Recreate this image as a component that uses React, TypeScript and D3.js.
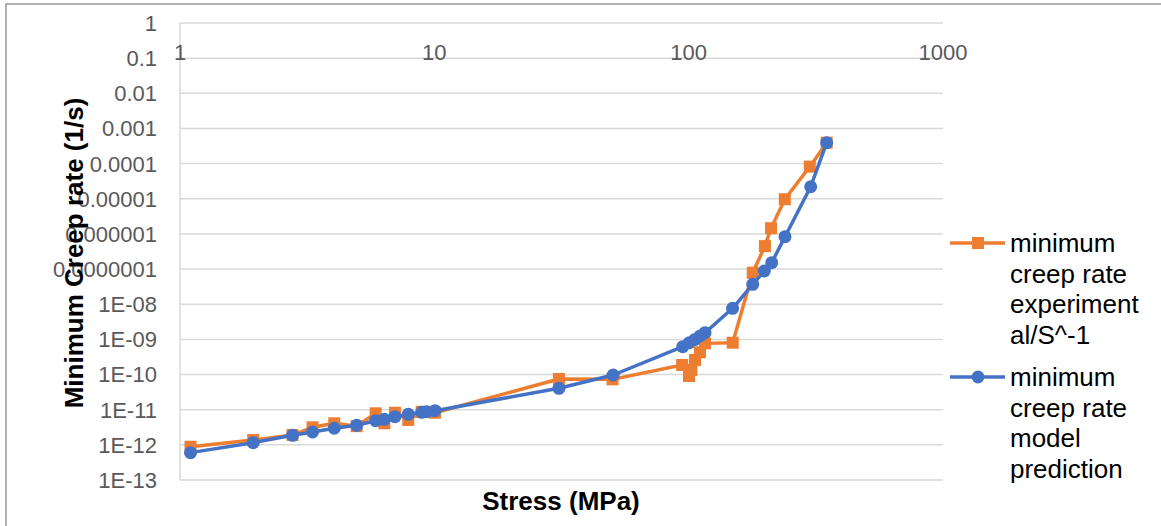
import React from "react";
import * as d3 from "d3";

const W = 1161;
const H = 526;

const xTicks = [1, 10, 100, 1000];
const yTicks = [1, 0.1, 0.01, 0.001, 0.0001, 0.00001, 0.000001, 1e-7, 1e-8, 1e-9, 1e-10, 1e-11, 1e-12, 1e-13];
const yTickLabels = ["1", "0.1", "0.01", "0.001", "0.0001", "0.00001", "0.000001", "0.0000001", "1E-08", "1E-09", "1E-10", "1E-11", "1E-12", "1E-13"];

const expStress = [1.1, 1.94, 2.77, 3.32, 4.04, 4.95, 5.88, 6.36, 7.0, 7.9, 8.92, 9.33, 10.06, 30.9, 50.2, 94.3, 100.3, 102.5, 105.9, 110.8, 116, 149, 178.6, 199.4, 210.8, 238.8, 299.4, 348.9];
const expRate = [8.85e-13, 1.37e-12, 1.9e-12, 3.16e-12, 4.1e-12, 3.4e-12, 7.9e-12, 4.1e-12, 8.2e-12, 5.1e-12, 8.7e-12, 8.6e-12, 8.2e-12, 7.47e-11, 7.3e-11, 1.87e-10, 9.1e-11, 1.35e-10, 2.6e-10, 4.3e-10, 7.7e-10, 8.05e-10, 7.9e-8, 4.5e-7, 1.45e-6, 9.7e-6, 8.2e-5, 3.94e-4];

const modStress = [1.1, 1.94, 2.77, 3.32, 4.04, 4.95, 5.88, 6.36, 7.0, 7.9, 8.92, 9.33, 10.06, 30.9, 50.5, 94.8, 100.6, 105.9, 110.8, 116, 148.8, 178.6, 198.4, 212.1, 239.2, 301.8, 348.9];
const modRate = [6.0e-13, 1.15e-12, 1.87e-12, 2.32e-12, 2.96e-12, 3.6e-12, 4.86e-12, 5.33e-12, 6.32e-12, 7.4e-12, 8.43e-12, 8.77e-12, 9.36e-12, 4.06e-11, 9.7e-11, 6.2e-10, 8.05e-10, 1.0e-9, 1.25e-9, 1.55e-9, 7.66e-9, 3.69e-8, 8.8e-8, 1.52e-7, 8.34e-7, 2.2e-5, 3.94e-4];

const legendExp = ["minimum", "creep rate", "experiment", "al/S^-1"];
const legendMod = ["minimum", "creep rate", "model", "prediction"];

const ORANGE = "#ED7D31";
const BLUE = "#4472C4";
const FONT = "'Liberation Sans', Arial, sans-serif";

export default function App() {
  const x = d3.scaleLog().domain([1, 1000]).range([180, 943]);
  const y = d3.scaleLog().domain([1e-13, 1]).range([480, 23]);

  const line = d3
    .line<[number, number]>()
    .x((d) => x(d[0]))
    .y((d) => y(d[1]));

  const expPts: [number, number][] = expStress.map((s, i) => [s, expRate[i]]);
  const modPts: [number, number][] = modStress.map((s, i) => [s, modRate[i]]);

  const sq = 12;

  return (
    <svg
      width={W}
      height={H}
      style={{ position: "absolute", left: 0, top: 0, background: "#fff" }}
    >
      <rect x={0} y={0} width={W} height={H} fill="#fff" />
      <rect x={6} y={4} width={W + 20} height={H + 20} fill="none" stroke="#878787" strokeWidth={1.3} />

      {/* gridlines */}
      {yTicks.map((t, i) => (
        <line key={"g" + i} x1={x(1)} x2={x(1000)} y1={y(t)} y2={y(t)} stroke="#d9d9d9" strokeWidth={1.5} />
      ))}
      <line x1={x(1)} x2={x(1)} y1={y(1)} y2={y(1e-13)} stroke="#d9d9d9" strokeWidth={1.5} />

      {/* y tick labels */}
      {yTicks.map((t, i) => (
        <text key={"yl" + i} x={157} y={y(t)} dy="0.36em" textAnchor="end" fontFamily={FONT} fontSize={22} fill="#595959">
          {yTickLabels[i]}
        </text>
      ))}

      {/* x tick labels */}
      {xTicks.map((t, i) => (
        <text key={"xl" + i} x={x(t)} y={60} textAnchor="middle" fontFamily={FONT} fontSize={22} fill="#595959">
          {String(t)}
        </text>
      ))}

      {/* experimental series */}
      <path d={line(expPts) || ""} fill="none" stroke={ORANGE} strokeWidth={3.5} strokeLinejoin="round" />
      {expPts.map((p, i) => (
        <rect key={"e" + i} x={x(p[0]) - sq / 2} y={y(p[1]) - sq / 2} width={sq} height={sq} fill={ORANGE} />
      ))}

      {/* model series */}
      <path d={line(modPts) || ""} fill="none" stroke={BLUE} strokeWidth={3.5} strokeLinejoin="round" />
      {modPts.map((p, i) => (
        <circle key={"m" + i} cx={x(p[0])} cy={y(p[1])} r={6.5} fill={BLUE} />
      ))}

      {/* axis titles */}
      <text x={561} y={510} textAnchor="middle" fontFamily={FONT} fontSize={26} fontWeight="bold" fill="#000">
        Stress (MPa)
      </text>
      <text
        transform={`translate(83,253) rotate(-90)`}
        textAnchor="middle"
        fontFamily={FONT}
        fontSize={26}
        fontWeight="bold"
        fill="#000"
      >
        Minimum Creep rate (1/s)
      </text>

      {/* legend */}
      <line x1={950} x2={1005} y1={243} y2={243} stroke={ORANGE} strokeWidth={3.5} />
      <rect x={978 - 6} y={243 - 6} width={12} height={12} fill={ORANGE} />
      {legendExp.map((s, i) => (
        <text key={"le" + i} x={1010} y={252 + i * 30.5} fontFamily={FONT} fontSize={26} fill="#000">
          {s}
        </text>
      ))}
      <line x1={950} x2={1005} y1={377} y2={377} stroke={BLUE} strokeWidth={3.5} />
      <circle cx={978} cy={377} r={6.5} fill={BLUE} />
      {legendMod.map((s, i) => (
        <text key={"lm" + i} x={1010} y={386 + i * 30.5} fontFamily={FONT} fontSize={26} fill="#000">
          {s}
        </text>
      ))}
    </svg>
  );
}
